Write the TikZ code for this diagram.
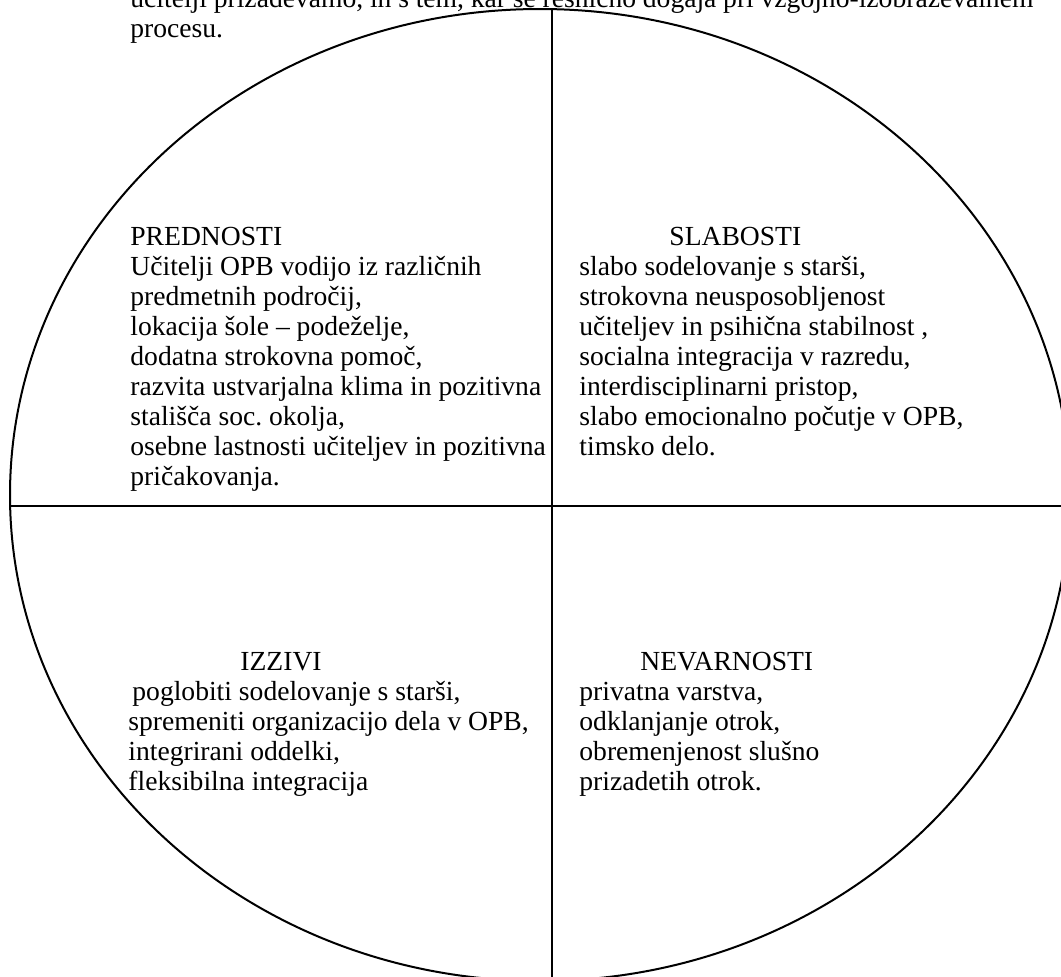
\documentclass[tikz,border=0pt]{standalone}
\usepackage{fontspec}
\setmainfont{Liberation Serif}
\usepackage{tikz}
\usetikzlibrary{positioning}
\frenchspacing

\begin{document}
\begin{tikzpicture}[
    x=0.5pt, y=-0.5pt,
    txt/.style={inner sep=0pt, anchor=base west, align=left,
                font=\fontsize{13.8pt}{15pt}\selectfont},
    frame/.style={line width=1pt, black}
]
\useasboundingbox (0,0) rectangle (1061,976);
% circle split into four fields
\draw[frame] (540,495) ellipse [x radius=530, y radius=486];
\coordinate (top) at (552,9);
\coordinate (bottom) at (552,985);
\coordinate (left) at (10,506);
\coordinate (right) at (1070,506);
\draw[frame] (top) -- (bottom);
\draw[frame] (left) -- (right);
% running text above the picture (base = last line)
\node[txt] (uvod) at (130,37) {\makebox[451.5pt][s]{učitelji prizadevamo, in s tem, kar se resnično dogaja pri vzgojno-izobraževalnem}\\procesu.};
% four fields
\node[txt] (prednosti) at (130,485) {PREDNOSTI\\Učitelji OPB vodijo iz različnih\\predmetnih področij,\\lokacija šole – podeželje,\\dodatna strokovna pomoč,\\razvita ustvarjalna klima in pozitivna\\stališča soc. okolja,\\osebne lastnosti učiteljev in pozitivna\\pričakovanja.};
\node[txt] (slabosti) at (669,245) {SLABOSTI};
\node[txt] (slabostiTxt) at (579,455) {slabo sodelovanje s starši,\\strokovna neusposobljenost\\učiteljev in psihična stabilnost ,\\socialna integracija v razredu,\\interdisciplinarni pristop,\\slabo emocionalno počutje v OPB,\\timsko delo.};
\node[txt] (izzivi) at (240,670) {IZZIVI};
\node[txt] (izziviTxt) at (128,790) {\hspace*{2pt}poglobiti sodelovanje s starši,\\spremeniti organizacijo dela v OPB,\\integrirani oddelki,\\fleksibilna integracija};
\node[txt] (nevarnosti) at (640,670) {NEVARNOSTI};
\node[txt] (nevarnostiTxt) at (579,790) {privatna varstva,\\odklanjanje otrok,\\obremenjenost slušno\\prizadetih otrok.};
\end{tikzpicture}
\end{document}
